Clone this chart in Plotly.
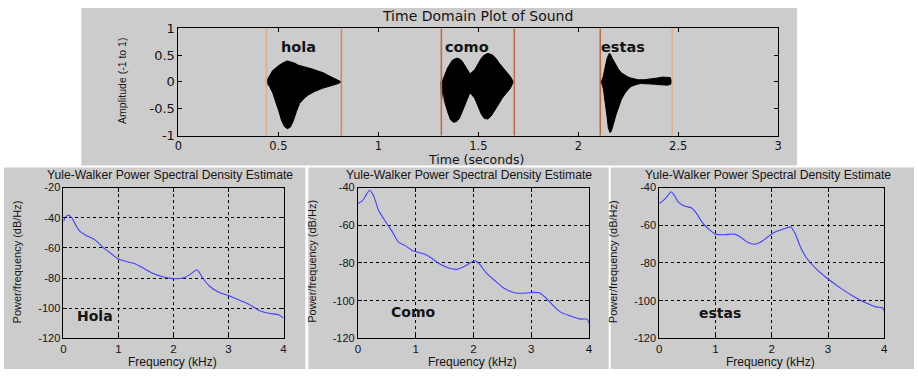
import plotly.graph_objects as go

W, H = 918, 379

# ---------------- data ----------------
# word boundary markers (seconds)
marker_times = [0.44, 0.815, 1.315, 1.68, 2.11, 2.47]

word_labels = ["hola", "como", "estas"]
word_label_t = [0.60, 1.445, 2.225]
word_label_amp = [0.64, 0.65, 0.65]

# waveform envelopes (time s, amplitude)
hola_up_t = [0.438, 0.45, 0.471, 0.50, 0.525, 0.545, 0.565, 0.58, 0.60, 0.62, 0.645, 0.67, 0.70, 0.725, 0.75, 0.78, 0.80, 0.815]
hola_up_a = [0.0, 0.08, 0.21, 0.30, 0.36, 0.39, 0.37, 0.35, 0.31, 0.29, 0.27, 0.24, 0.20, 0.17, 0.12, 0.07, 0.04, 0.0]
hola_lo_t = [0.438, 0.455, 0.471, 0.485, 0.50, 0.516, 0.53, 0.545, 0.56, 0.575, 0.59, 0.606, 0.63, 0.651, 0.68, 0.72, 0.76, 0.80, 0.815]
hola_lo_a = [0.0, -0.08, -0.2, -0.35, -0.52, -0.72, -0.83, -0.87, -0.84, -0.72, -0.55, -0.40, -0.30, -0.24, -0.18, -0.12, -0.07, -0.03, 0.0]

como_up_t = [1.313, 1.324, 1.346, 1.369, 1.39, 1.405, 1.42, 1.436, 1.458, 1.481, 1.50, 1.515, 1.53, 1.548, 1.571, 1.59, 1.604, 1.62, 1.638, 1.66, 1.675]
como_up_a = [0.0, 0.05, 0.26, 0.40, 0.44, 0.43, 0.38, 0.28, 0.15, 0.22, 0.36, 0.44, 0.50, 0.53, 0.50, 0.43, 0.35, 0.27, 0.20, 0.10, 0.0]
como_lo_t = [1.313, 1.316, 1.319, 1.323, 1.33, 1.346, 1.36, 1.375, 1.39, 1.405, 1.42, 1.436, 1.458, 1.481, 1.50, 1.515, 1.53, 1.548, 1.565, 1.585, 1.604, 1.62, 1.638, 1.66, 1.675]
como_lo_a = [0.0, -0.33, -0.32, -0.12, -0.35, -0.55, -0.70, -0.75, -0.74, -0.68, -0.55, -0.42, -0.20, -0.30, -0.45, -0.60, -0.68, -0.69, -0.63, -0.52, -0.40, -0.30, -0.22, -0.12, 0.0]

estas_up_t = [2.115, 2.125, 2.135, 2.145, 2.155, 2.16, 2.17, 2.185, 2.20, 2.215, 2.233, 2.25, 2.266, 2.285, 2.30, 2.33, 2.356, 2.39, 2.423, 2.445, 2.46, 2.47]
estas_up_a = [0.0, 0.1, 0.28, 0.45, 0.53, 0.52, 0.44, 0.34, 0.24, 0.17, 0.12, 0.09, 0.07, 0.05, 0.04, 0.04, 0.05, 0.07, 0.09, 0.09, 0.08, 0.0]
estas_lo_t = [2.115, 2.125, 2.135, 2.143, 2.15, 2.158, 2.165, 2.176, 2.188, 2.199, 2.215, 2.233, 2.25, 2.266, 2.29, 2.311, 2.34, 2.367, 2.40, 2.423, 2.445, 2.46, 2.47]
estas_lo_a = [0.0, -0.12, -0.35, -0.62, -0.85, -0.94, -0.92, -0.78, -0.62, -0.48, -0.33, -0.21, -0.13, -0.08, -0.05, -0.03, -0.03, -0.04, -0.05, -0.06, -0.06, -0.05, 0.0]

# Yule-Walker PSD estimates (kHz, dB/Hz)
hola_f = [0.0, 0.03, 0.09, 0.15, 0.24, 0.30, 0.42, 0.54, 0.60, 0.72, 0.84, 0.99, 1.14, 1.29, 1.44, 1.62, 1.80, 1.98, 2.17, 2.29, 2.43, 2.53, 2.65, 2.83, 3.01, 3.19, 3.37, 3.55, 3.73, 3.91, 4.0]
hola_psd = [-42.5, -40.0, -38.3, -40.0, -46.0, -49.1, -51.9, -54.0, -55.5, -59.8, -63.0, -67.2, -69.0, -70.4, -73.2, -76.8, -79.1, -80.4, -80.0, -77.9, -74.5, -80.0, -85.3, -89.6, -91.7, -94.5, -97.4, -101.3, -103.4, -104.3, -106.6]

como_f = [0.0, 0.075, 0.13, 0.20, 0.275, 0.36, 0.48, 0.59, 0.70, 0.82, 0.93, 1.05, 1.16, 1.28, 1.39, 1.56, 1.71, 1.85, 1.97, 2.03, 2.11, 2.22, 2.37, 2.54, 2.71, 2.88, 3.05, 3.14, 3.23, 3.37, 3.51, 3.68, 3.86, 3.97, 4.0]
como_psd = [-48.5, -47.1, -44.6, -41.4, -44.6, -52.2, -58.1, -63.1, -68.8, -70.8, -73.2, -74.4, -75.4, -77.5, -80.0, -82.5, -83.4, -81.7, -79.5, -78.8, -80.8, -85.1, -89.3, -93.6, -95.8, -96.1, -95.6, -95.8, -97.8, -102.2, -106.1, -108.1, -109.8, -109.8, -111.9]

estas_f = [0.0, 0.076, 0.15, 0.21, 0.27, 0.34, 0.46, 0.57, 0.66, 0.75, 0.87, 1.0, 1.16, 1.34, 1.45, 1.57, 1.69, 1.80, 1.92, 2.04, 2.16, 2.27, 2.34, 2.42, 2.51, 2.62, 2.80, 2.98, 3.21, 3.44, 3.68, 3.85, 3.97, 4.0]
estas_psd = [-48.5, -46.8, -44.3, -42.2, -44.3, -47.7, -49.9, -50.7, -53.6, -57.9, -61.8, -64.7, -65.0, -64.7, -66.4, -69.0, -70.1, -69.0, -66.4, -63.8, -62.5, -61.3, -60.9, -64.7, -71.5, -77.4, -83.4, -88.0, -93.1, -97.5, -101.3, -103.3, -103.8, -105.5]

psd_labels = ["Hola", "Como", "estas"]
psd_label_f = [0.57, 0.96, 1.08]
psd_label_db = [-105, -106, -106.5]

time_ticks = [0, 0.5, 1, 1.5, 2, 2.5, 3]
time_ticktext = ["0", "0.5", "1", "1.5", "2", "2.5", "3"]
amp_ticks = [-1, -0.5, 0, 0.5, 1]
amp_ticktext = ["-1", "-0.5", "0", "0.5", "1"]
freq_ticks = [0, 1, 2, 3, 4]

# ---------------- styling ----------------
FONT = "Liberation Sans, Arial, sans-serif"
WIDE = "DejaVu Sans, Verdana, sans-serif"
PANEL = "#cccccc"
CURVE = "#4040ff"
TXT = "#141414"
marker_colors = ["#dcae8e", "#cf8a60", "#c06f3c", "#c06f3c", "#c06f3c", "#dcae8e"]


def px(x):
    return x / W


def py(y):
    return 1 - y / H


fig = go.Figure()

# waveform polygons (upper envelope + reversed lower envelope)
for ut, ua, lt, la in [(hola_up_t, hola_up_a, hola_lo_t, hola_lo_a),
                       (como_up_t, como_up_a, como_lo_t, como_lo_a),
                       (estas_up_t, estas_up_a, estas_lo_t, estas_lo_a)]:
    fig.add_trace(go.Scatter(
        x=ut + lt[::-1], y=ua + la[::-1], mode="lines", fill="toself",
        fillcolor="black", line=dict(color="black", width=1),
        xaxis="x", yaxis="y", showlegend=False, hoverinfo="skip"))

for i, (f, p) in enumerate([(hola_f, hola_psd), (como_f, como_psd), (estas_f, estas_psd)]):
    fig.add_trace(go.Scatter(
        x=f, y=p, mode="lines", line=dict(color=CURVE, width=1.1, shape="spline", smoothing=0.6),
        xaxis=f"x{i+2}", yaxis=f"y{i+2}", showlegend=False))

shapes = []
# background panels
panels = [(78, 1, 800, 165), (0, 167, 304, 377), (307, 167, 610, 377), (612, 167, 918, 377)]
for x0, y0, x1, y1 in panels:
    shapes.append(dict(type="rect", xref="paper", yref="paper", x0=px(x0), x1=px(x1),
                       y0=py(y1), y1=py(y0), fillcolor=PANEL, line=dict(width=0), layer="below"))

# word boundary lines
for t, c in zip(marker_times, marker_colors):
    shapes.append(dict(type="line", xref="x", yref="y", x0=t, x1=t, y0=-1, y1=1,
                       line=dict(color=c, width=1.6)))

axis_common = dict(showline=True, linecolor="black", linewidth=1, mirror="allticks",
                   ticks="inside", ticklen=4, tickcolor="black", zeroline=False)

layout = dict(
    width=W, height=H, margin=dict(l=0, r=0, t=0, b=0),
    paper_bgcolor="white", plot_bgcolor="white",
    shapes=shapes,
    xaxis=dict(domain=[px(176), px(781)], range=[0, 3], tickvals=time_ticks, ticktext=time_ticktext,
               showgrid=False, tickfont=dict(family=WIDE, size=11.5, color=TXT), anchor="y", **axis_common),
    yaxis=dict(domain=[py(134), py(22)], range=[-1, 1], tickvals=amp_ticks, ticktext=amp_ticktext,
               showgrid=False, tickfont=dict(family=WIDE, size=13, color=TXT), anchor="x", **axis_common),
)

bottom_x = [(60, 282), (357, 590), (661, 888)]
bottom_yr = [[-120, -20], [-120, -40], [-120, -40]]
for i, ((x0, x1), yr) in enumerate(zip(bottom_x, bottom_yr)):
    n = i + 2
    yt = list(range(yr[0], yr[1] + 1, 20))
    layout[f"xaxis{n}"] = dict(domain=[px(x0), px(x1)], range=[0, 4], tickvals=freq_ticks,
                               showgrid=True, gridcolor="black", griddash="dot", gridwidth=1,
                               tickfont=dict(family=FONT, size=11.5, color=TXT), anchor=f"y{n}", **axis_common)
    layout[f"yaxis{n}"] = dict(domain=[py(345), py(188)], range=yr, tickvals=yt,
                               ticktext=[str(v) for v in yt],
                               showgrid=True, gridcolor="black", griddash="dot", gridwidth=1,
                               tickfont=dict(family=FONT, size=11, color=TXT), anchor=f"x{n}", **axis_common)

fig.update_layout(**layout)

ann = []
# top titles
ann.append(dict(text="Time Domain Plot of Sound", xref="paper", yref="paper", x=px(478), y=py(9),
                showarrow=False, font=dict(family=WIDE, size=14, color=TXT), xanchor="center", yanchor="middle"))
ann.append(dict(text="Time (seconds)", xref="paper", yref="paper", x=px(476), y=py(158.5),
                showarrow=False, font=dict(family=WIDE, size=12.5, color=TXT), xanchor="center", yanchor="middle"))
ann.append(dict(text="Amplitude (-1 to 1)", xref="paper", yref="paper", x=px(119), y=py(77), textangle=-90,
                showarrow=False, font=dict(family=FONT, size=10.5, color=TXT),
                xanchor="center", yanchor="middle"))
for lab, t, a in zip(word_labels, word_label_t, word_label_amp):
    ann.append(dict(text=f"<b>{lab}</b>", xref="x", yref="y", x=t, y=a, showarrow=False,
                    font=dict(family=WIDE, size=14.5, color=TXT), xanchor="center", yanchor="middle"))

for i, (x0, x1) in enumerate(bottom_x):
    n = i + 2
    cx = (x0 + x1) / 2
    ann.append(dict(text="Yule-Walker Power Spectral Density Estimate", xref="paper", yref="paper",
                    x=px(cx - 4), y=py(175), showarrow=False,
                    font=dict(family=FONT, size=12.2, color=TXT), xanchor="center", yanchor="middle"))
    ann.append(dict(text="Frequency (kHz)", xref="paper", yref="paper", x=px(cx - 1), y=py(369.5), showarrow=False,
                    font=dict(family=FONT, size=12, color=TXT), xanchor="center", yanchor="middle"))
    ann.append(dict(text="Power/frequency (dB/Hz)", xref="paper", yref="paper", x=px(x0 - 47), y=py(265),
                    textangle=-90, showarrow=False, font=dict(family=FONT, size=11, color=TXT),
                    xanchor="center", yanchor="middle"))
    ann.append(dict(text=f"<b>{psd_labels[i]}</b>", xref=f"x{n}", yref=f"y{n}", x=psd_label_f[i], y=psd_label_db[i],
                    showarrow=False, font=dict(family=WIDE, size=14, color=TXT), xanchor="center", yanchor="middle"))

fig.update_layout(annotations=ann)
fig.write_html("out.html", config={"displayModeBar": False},
               post_script="document.body.style.margin='0';document.body.style.overflow='hidden';")
